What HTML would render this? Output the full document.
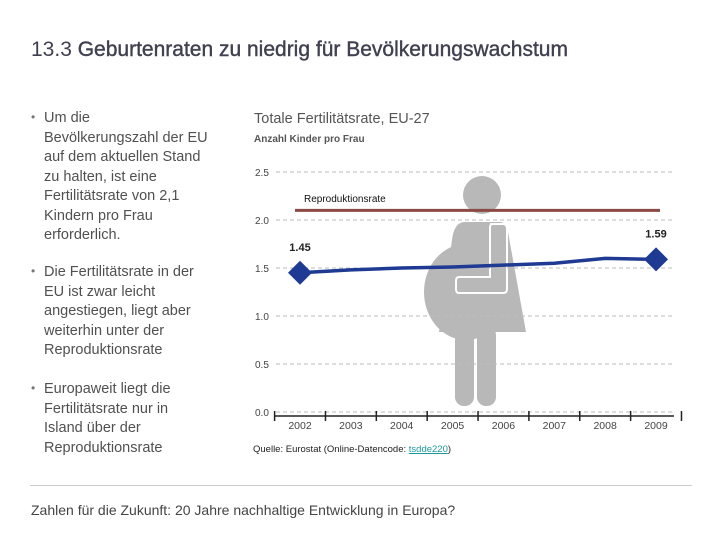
<!DOCTYPE html>
<html><head><meta charset="utf-8"><style>
body{margin:0;width:720px;height:540px;background:#fff;font-family:"Liberation Sans",sans-serif;position:relative;overflow:hidden}
.t{position:absolute;color:#4a4a4a}
.b{position:absolute;left:44px;font-size:14.5px;line-height:19.5px;color:#505050;white-space:nowrap}
.d{position:absolute;left:31px;font-size:12px;color:#777}
</style></head><body>
<div class="t" style="left:31px;top:38px;font-size:21px;color:#404050">13.3 <span style="-webkit-text-stroke:0.4px #404050">Geburtenraten zu niedrig für Bevölkerungswachstum</span></div>
<div class="d" style="top:110px">•</div>
<div class="b" style="top:109px">Um die<br>Bevölkerungszahl der EU<br>auf dem aktuellen Stand<br>zu halten, ist eine<br>Fertilitätsrate von 2,1<br>Kindern pro Frau<br>erforderlich.</div>
<div class="d" style="top:264px">•</div>
<div class="b" style="top:263px">Die Fertilitätsrate in der<br>EU ist zwar leicht<br>angestiegen, liegt aber<br>weiterhin unter der<br>Reproduktionsrate</div>
<div class="d" style="top:381px">•</div>
<div class="b" style="top:380px">Europaweit liegt die<br>Fertilitätsrate nur in<br>Island über der<br>Reproduktionsrate</div>
<div class="t" style="left:254px;top:111px;font-size:14.5px;color:#555">Totale Fertilitätsrate, EU-27</div>
<div class="t" style="left:254px;top:134px;font-size:10px;font-weight:bold;color:#555">Anzahl Kinder pro Frau</div>
<svg id="chart" width="720" height="540" style="position:absolute;left:0;top:0"></svg>
<div class="t" style="left:253px;top:444px;font-size:9.5px;color:#222">Quelle: Eurostat (Online-Datencode: <span style="color:#1a9a9a;text-decoration:underline">tsdde220</span>)</div>
<div style="position:absolute;left:30px;top:485px;width:662px;height:1px;background:#ccc"></div>
<div class="t" style="left:31px;top:502px;font-size:14px;color:#444">Zahlen für die Zukunft: 20 Jahre nachhaltige Entwicklung in Europa?</div>
<script>
const years=["2002","2003","2004","2005","2006","2007","2008","2009"];
const rates=[1.45,1.48,1.50,1.51,1.53,1.55,1.60,1.59];
const yTicks=[0,0.5,1.0,1.5,2.0,2.5];
const yTickLabels=["0.0","0.5","1.0","1.5","2.0","2.5"];
const reproRate=[2.1];
const NS="http://www.w3.org/2000/svg";
const svg=document.getElementById('chart');
const X=i=>300+i*50.86, Y=v=>412-v*96;
function mk(t,a,p){const e=document.createElementNS(NS,t);for(const k in a)e.setAttribute(k,a[k]);(p||svg).appendChild(e);return e;}
const g=mk('g',{fill:'#b8b8b8'});


mk('circle',{cx:482,cy:195,r:19},g);
mk('path',{d:"M465 222 L500 222 Q506 222 508 232 L526 332 L439 332 L452 240 Q454 222 465 222 Z"},g);
mk('ellipse',{cx:466,cy:292,rx:42,ry:48},g);
mk('rect',{x:455,y:326,width:19,height:80,rx:9},g);
mk('rect',{x:477,y:326,width:19,height:80,rx:9},g);
mk('path',{d:"M491 224 L503 224 Q507 224 507 229 L507 289 Q507 293 503 293 L459 293 Q456 293 456 289 L456 281 Q456 277 459 277 L490 277 L490 227 Z",fill:'#b8b8b8',stroke:'#fff','stroke-width':2},g);
yTicks.forEach((v,i)=>{
 const l=mk('line',{x1:276,x2:672,y1:Y(v),y2:Y(v),stroke:'#bbb','stroke-dasharray':'4,3'});
 
 
 const t=mk('text',{x:255,y:Y(v)+4,'font-size':10,fill:'#444'});t.textContent=yTickLabels[i];
 
 
});
const ax=mk('line',{x1:275,x2:674,y1:416,y2:416,stroke:'#222','stroke-width':1.5});


for(let i=0;i<=years.length;i++){const x=X(i)-25.4;mk('line',{x1:x,x2:x,y1:411,y2:421,stroke:'#222','stroke-width':1.5});}
years.forEach((y,i)=>{const t=mk('text',{x:X(i),y:429,'font-size':10.5,fill:'#444','text-anchor':'middle'});t.textContent=y;
 
 });
const rl=mk('line',{x1:295,x2:660,y1:Y(reproRate[0]),y2:Y(reproRate[0]),stroke:'#8b4a43','stroke-width':3});


const rt=mk('text',{x:304,y:202,'font-size':10,fill:'#111'});rt.textContent='Reproduktionsrate';


const ln=mk('polyline',{points:rates.map((v,i)=>X(i)+','+Y(v)).join(' '),fill:'none',stroke:'#1f3a93','stroke-width':3.5});


[0,rates.length-1].forEach(i=>{
 const x=X(i),y=Y(rates[i]);
 const d=mk('polygon',{points:`${x},${y-12} ${x+12},${y} ${x},${y+12} ${x-12},${y}`,fill:'#1f3a93'});
 
 
 const t=mk('text',{x:x,y:y-22,'font-size':11,'font-weight':'bold',fill:'#222','text-anchor':'middle'});t.textContent=rates[i].toFixed(2);
 
 
});
</script>
</body></html>
